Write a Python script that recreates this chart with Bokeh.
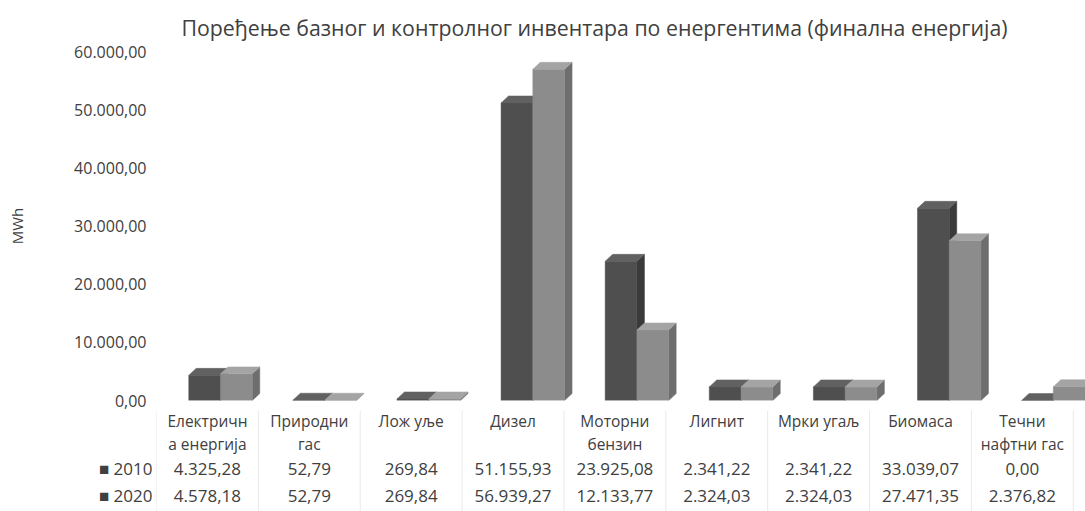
import numpy as np
from bokeh.plotting import figure
from bokeh.models import Range1d, FixedTicker
from bokeh.layouts import column
from bokeh.core.properties import value
from bokeh.embed import file_html
from bokeh.resources import INLINE

title_text = "Поређење базног и контролног инвентара по енергентима (финална енергија)"
cat_line1 = ["Електричн", "Природни", "Лож уље", "Дизел", "Моторни", "Лигнит", "Мрки угаљ", "Биомаса", "Течни"]
cat_line2 = ["а енергија", "гас", "", "", "бензин", "", "", "", "нафтни гас"]
series = ["2010", "2020"]
v2010 = [4325.28, 52.79, 269.84, 51155.93, 23925.08, 2341.22, 2341.22, 33039.07, 0.00]
v2020 = [4578.18, 52.79, 269.84, 56939.27, 12133.77, 2324.03, 2324.03, 27471.35, 2376.82]
y_ticks = [0, 10000, 20000, 30000, 40000, 50000, 60000]
y_label = "MWh"

FONT = value("Open Sans")
TXT = "#404040"


def fmt(v):
    s = f"{v:,.2f}"
    return s.replace(",", "X").replace(".", ",").replace("X", ".")


# colours per series: front, side, top
cols = {
    "2010": ("#4f4f4f", "#3a3a3a", "#616161"),
    "2020": ("#8c8c8c", "#6e6e6e", "#a4a4a4"),
}

p = figure(width=1085, height=410, x_range=Range1d(-0.615, 8.309), y_range=Range1d(0, 60000),
           output_backend="svg", toolbar_location=None, title=title_text,
           min_border_left=156, min_border_right=0, min_border_top=48, min_border_bottom=10)
p.title.align = "left"
p.title.offset = 25
p.title.standoff = 20
p.title.text_font = "Open Sans"
p.title.text_font_size = "21.3px"
p.title.text_font_style = "normal"
p.title.text_color = TXT
p.xaxis.visible = False
p.xgrid.visible = False
p.ygrid.visible = False
p.outline_line_color = None
ya = p.yaxis[0]
ya.ticker = FixedTicker(ticks=y_ticks)
ya.major_label_overrides = {t: fmt(t) for t in y_ticks}
ya.axis_line_color = None
ya.major_tick_line_color = None
ya.major_tick_out = 0
ya.major_tick_in = 0
ya.minor_tick_line_color = None
ya.major_label_standoff = 10
ya.major_label_text_font = "Open Sans"
ya.major_label_text_font_size = "16px"
ya.major_label_text_color = TXT
ya.axis_label = y_label
ya.axis_label_text_font = "Open Sans"
ya.axis_label_text_font_size = "15px"
ya.axis_label_text_font_style = "normal"
ya.axis_label_text_color = TXT
ya.axis_label_standoff = 44

idx = np.arange(len(cat_line1))
bw = 0.305
dx = 0.072
dy = 1200.0

for k, (name, vals) in enumerate(zip(series, [v2010, v2020])):
    vals = np.array(vals)
    centers = idx + (k - 0.5) * bw
    xl = centers - bw / 2
    xr = centers + bw / 2
    front, side, top = cols[name]
    side_xs = [[a, a + dx, a + dx, a] for a in xr]
    side_ys = [[0, dy, v + dy, v] for v in vals]
    top_xs = [[l, l + dx, r + dx, r] for l, r in zip(xl, xr)]
    top_ys = [[v, v + dy, v + dy, v] for v in vals]
    p.patches(side_xs, side_ys, fill_color=side, line_color=side, line_width=0.5)
    p.vbar(x=centers, width=bw, top=vals, bottom=0, fill_color=front, line_color=front, line_width=0.5)
    p.patches(top_xs, top_ys, fill_color=top, line_color=top, line_width=0.5)

# data table
row_y = [58, 85]
t = figure(width=1085, height=101, x_range=Range1d(-0.5, 8.62), y_range=Range1d(101, 0),
           output_backend="svg", toolbar_location=None,
           min_border_left=156, min_border_right=0, min_border_top=0, min_border_bottom=0)
t.xaxis.visible = False
t.grid.visible = False
t.outline_line_color = None
ta = t.yaxis[0]
ta.ticker = FixedTicker(ticks=row_y)
ta.major_label_overrides = {y: "■ " + s for y, s in zip(row_y, series)}
ta.axis_line_color = None
ta.major_tick_line_color = None
ta.major_tick_out = 0
ta.major_tick_in = 0
ta.minor_tick_line_color = None
ta.major_label_standoff = 4
ta.major_label_text_font = "Open Sans"
ta.major_label_text_font_size = "17px"
ta.major_label_text_color = TXT

bounds = np.arange(len(cat_line1) + 1) - 0.5
t.segment(x0=bounds, y0=[0] * len(bounds), x1=bounds, y1=[101] * len(bounds), line_color="#e9e9e9", line_width=1)

tkw = dict(text_align="center", text_baseline="middle", text_font=FONT, text_color=TXT)
t.text(x=idx, y=[10] * len(idx), text=cat_line1, text_font_size="15.5px", **tkw)
t.text(x=idx, y=[33] * len(idx), text=cat_line2, text_font_size="15.5px", **tkw)
t.text(x=idx, y=[row_y[0]] * len(idx), text=[fmt(v) for v in v2010], text_font_size="17px", **tkw)
t.text(x=idx, y=[row_y[1]] * len(idx), text=[fmt(v) for v in v2020], text_font_size="17px", **tkw)

layout = column(p, t)
open("out.html", "w").write(file_html(layout, INLINE))
